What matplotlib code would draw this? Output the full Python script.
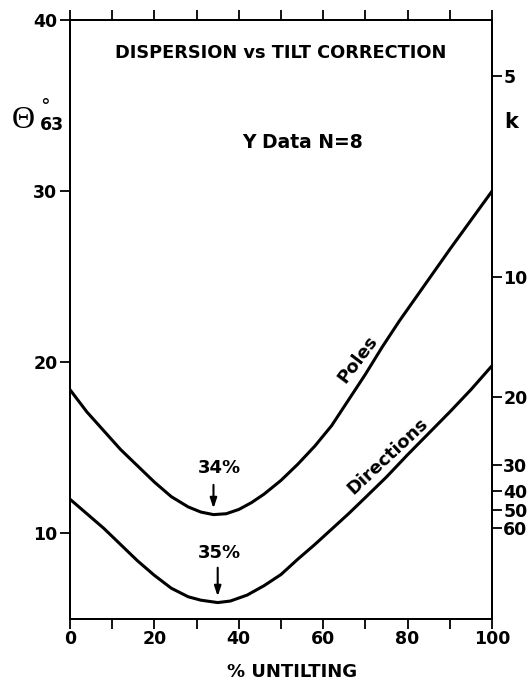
import numpy as np
import matplotlib.pyplot as plt

plt.rcParams['font.family'] = ['DejaVu Sans']
plt.rcParams['font.weight'] = 'bold'

# Curvas: % untilting vs theta63
poles_x = [0, 4, 8, 12, 16, 20, 24, 28, 31, 34, 37, 40, 43, 46, 50, 54, 58, 62, 66, 70, 74, 78, 82, 86, 90, 95, 100]
poles_y = [18.4, 17.1, 16.0, 14.9, 13.95, 13.0, 12.15, 11.55, 11.25, 11.1, 11.15, 11.4, 11.8, 12.3, 13.1, 14.05,
           15.1, 16.3, 17.8, 19.3, 20.9, 22.4, 23.8, 25.2, 26.6, 28.3, 30.0]

dirs_x = [0, 4, 8, 12, 16, 20, 24, 28, 31, 35, 38, 42, 46, 50, 54, 58, 62, 66, 70, 75, 80, 86, 90, 95, 100]
dirs_y = [12.0, 11.15, 10.3, 9.35, 8.4, 7.55, 6.8, 6.3, 6.1, 5.96, 6.05, 6.4, 6.95, 7.6, 8.5, 9.35, 10.25,
          11.15, 12.1, 13.3, 14.6, 16.1, 17.1, 18.4, 19.8]

poles_min = 34
dirs_min = 35

# Eje derecho: k y su posicion en theta63
k_labels = [5, 10, 20, 30, 40, 50, 60]
k_theta = [36.7, 25.0, 17.95, 14.0, 12.5, 11.35, 10.3]

fig = plt.figure(figsize=(5.31, 6.83), dpi=100)
ax = fig.add_axes([0.1318, 0.0937, 0.7948, 0.877])

ax.plot(poles_x, poles_y, color='black', lw=2.2, solid_capstyle='round', solid_joinstyle='round')
ax.plot(dirs_x, dirs_y, color='black', lw=2.2, solid_capstyle='round', solid_joinstyle='round')

ax.set_xlim(0, 100)
ax.set_ylim(5, 40)
ax.set_xticks(np.arange(0, 101, 10))
ax.set_xticklabels([str(v) if v % 20 == 0 else '' for v in range(0, 101, 10)])
ax.set_yticks([10, 20, 30, 40])
ax.tick_params(axis='both', direction='out', length=7, width=1.3, labelsize=12.5, pad=2)
ax.tick_params(axis='x', top=True, pad=1)
for s in ax.spines.values():
    s.set_linewidth(1.4)

ax2 = ax.twinx()
ax2.set_ylim(5, 40)
ax2.set_yticks(k_theta)
ax2.set_yticklabels([str(k) for k in k_labels])
ax2.tick_params(axis='y', direction='out', length=7, width=1.3, labelsize=12.5, pad=1)
for s in ax2.spines.values():
    s.set_linewidth(1.4)

ax.set_xlabel('% UNTILTING', fontsize=13, fontweight='bold')
ax.xaxis.set_label_coords(0.526, -0.0885)
ax.xaxis.label.set_va('center')

# Textos
ax.text(0.5, 0.945, 'DISPERSION vs TILT CORRECTION', transform=ax.transAxes, ha='center', va='center',
        fontsize=12.8, fontweight='bold')
ax.text(0.55, 0.795, 'Y Data N=8', transform=ax.transAxes, ha='center', va='center',
        fontsize=13.5, fontweight='bold')
fig.text(0.0435, 0.8126, '\u0398', family='Liberation Serif', fontweight='normal', fontsize=23,
         ha='center', va='baseline')
fig.text(0.084, 0.836, '\u00b0', family='DejaVu Sans', fontweight='normal', fontsize=14,
         ha='center', va='baseline')
fig.text(0.098, 0.8097, '63', fontsize=12.5, fontweight='bold', ha='center', va='baseline')
fig.text(0.963, 0.8126, 'k', fontsize=15, fontweight='bold', ha='center', va='baseline')

ax.text(68.1, 20.2, 'Poles', rotation=53, ha='center', va='center', fontsize=13, fontweight='bold')
ax.text(75.2, 14.5, 'Directions', rotation=43, ha='center', va='center', fontsize=13, fontweight='bold')

# Flechas de minimos
pmin = poles_y[poles_x.index(poles_min)]
dmin = dirs_y[dirs_x.index(dirs_min)]
arrow = dict(arrowstyle='-|>,head_length=0.6,head_width=0.2', color='black', lw=1.5)
ax.annotate('', xy=(poles_min, pmin + 0.2), xytext=(poles_min, pmin + 1.9), arrowprops=arrow)
ax.annotate('', xy=(dirs_min, dmin + 0.2), xytext=(dirs_min, dmin + 2.2), arrowprops=arrow)
ax.text(poles_min + 1.3, pmin + 2.7, '%d%%' % poles_min, ha='center', va='center', fontsize=13, fontweight='bold')
ax.text(dirs_min + 0.5, dmin + 2.9, '%d%%' % dirs_min, ha='center', va='center', fontsize=13, fontweight='bold')

fig.savefig('out.png', dpi=100)
